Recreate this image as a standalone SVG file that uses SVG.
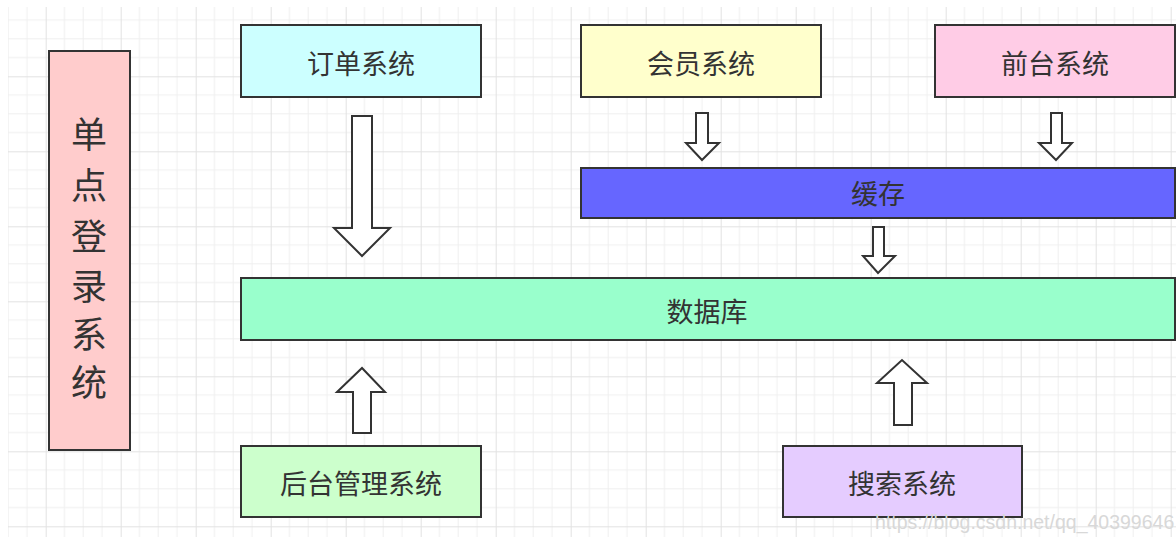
<svg xmlns="http://www.w3.org/2000/svg" width="1176" height="537" viewBox="0 0 1176 537">
<style>
.box{stroke:#333333;stroke-width:2}
.t{font-family:"Noto Sans CJK SC","Noto Sans",sans-serif;fill:#333333;text-anchor:middle;dominant-baseline:central}
.m{font-size:27px}
.v{font-size:36px}
.arr{fill:#ffffff;stroke:#333333;stroke-width:2;stroke-linejoin:miter}
.wm{font-family:"Liberation Sans",Arial,sans-serif;font-size:19.5px;fill:#d8d8d8}
</style>
<defs>
<pattern id="grid" x="45.7" y="1.3" width="75" height="75" patternUnits="userSpaceOnUse">
<path d="M18.75 0V75M37.5 0V75M56.25 0V75M0 18.75H75M0 37.5H75M0 56.25H75" stroke="#efefef" stroke-width="1" fill="none"/>
<path d="M0.5 0V75M0 0.5H75" stroke="#e2e2e2" stroke-width="1" fill="none"/>
</pattern>
</defs>
<rect width="1176" height="537" fill="#ffffff"/>
<rect x="8" y="7" width="1168" height="530" fill="url(#grid)"/>
<g id="sso"><rect class="box" x="49" y="51" width="81" height="399" fill="#ffcccc"/>
<text class="t v" x="89" y="132">单</text>
<text class="t v" x="89" y="183">点</text>
<text class="t v" x="89" y="234">登</text>
<text class="t v" x="89" y="284">录</text>
<text class="t v" x="89" y="332">系</text>
<text class="t v" x="89" y="380">统</text></g>
<g id="order"><rect class="box" x="241" y="25" width="240" height="72" fill="#ccffff"/><text class="t m" x="361" y="62">订单系统</text></g>
<g id="member"><rect class="box" x="581" y="25" width="240" height="72" fill="#ffffcc"/><text class="t m" x="701" y="62">会员系统</text></g>
<g id="front"><rect class="box" x="935" y="25" width="240" height="72" fill="#ffcce6"/><text class="t m" x="1055" y="62">前台系统</text></g>
<g id="cache"><rect class="box" x="581" y="168" width="594" height="50" fill="#6666ff"/><text class="t m" x="878" y="192">缓存</text></g>
<g id="db"><rect class="box" x="241" y="278" width="934" height="62" fill="#99ffcc"/><text class="t m" x="707" y="310">数据库</text></g>
<g id="admin"><rect class="box" x="241" y="446" width="240" height="71" fill="#ccffcc"/><text class="t m" x="361" y="482">后台管理系统</text></g>
<g id="search"><rect class="box" x="783" y="446" width="239" height="71" fill="#e5ccff"/><text class="t m" x="902" y="482">搜索系统</text></g>
<g id="connectors">
<path class="arr" d="M352 116H372V228H390L362 256L334 228H352Z"/>
<path class="arr" d="M696 113H708V143H719L702 160L686 143H696Z"/>
<path class="arr" d="M1051 113H1062V143H1072L1056 160L1039 143H1051Z"/>
<path class="arr" d="M873 227H884V256H895L878 273L863 256H873Z"/>
<path class="arr" d="M353 433H371V392H385L362 368L337 392H353Z"/>
<path class="arr" d="M894 425H912V383H927L902 360L877 383H894Z"/>
</g>
<text class="wm" x="875" y="529">https://blog.csdn.net/qq_40399646</text>
</svg>
